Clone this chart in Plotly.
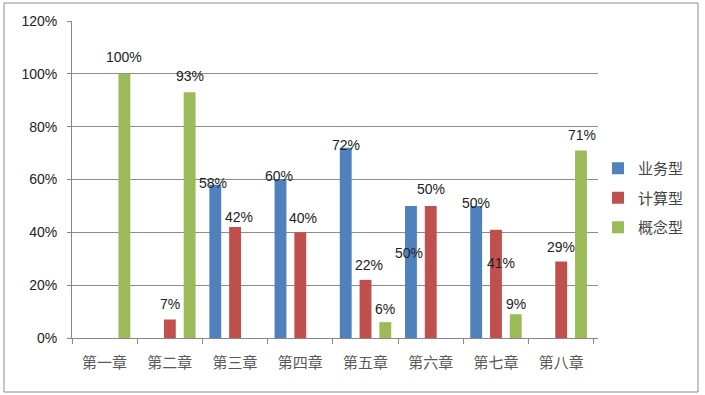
import plotly.graph_objects as go

categories = ["第一章", "第二章", "第三章", "第四章", "第五章", "第六章", "第七章", "第八章"]
yewu = [0, 0, 58, 60, 72, 50, 50, 0]      # 业务型
jisuan = [0, 7, 42, 40, 22, 50, 41, 29]   # 计算型
gainian = [100, 93, 0, 0, 6, 0, 9, 71]    # 概念型
series_names = ["业务型", "计算型", "概念型"]
y_ticks = [0, 20, 40, 60, 80, 100, 120]
y_tick_labels = ["0%", "20%", "40%", "60%", "80%", "100%", "120%"]

colors = ["#4F81BD", "#C0504D", "#9BBB59"]
series_values = [yewu, jisuan, gainian]

# label pixel offsets (dx, dy) from the bar top, per series per category (style only)
label_dy = [
    [0, 0, -2, -4, -3, 47, -3, 0],
    [0, -16, -10, -14, -15, -17, 33, -14],
    [-17, -16, 0, 0, -13, 0, -10, -15],
]
label_dx = [
    [0, 0, -2, -1, 0, -2, 0, 0],
    [0, 0, 4, 3, 3, 0, 5, 0],
    [0, 0, 0, 0, 0, 0, 0, 1],
]
slot_px = 19.8

fig = go.Figure()
for i, (name, vals) in enumerate(zip(series_names, series_values)):
    fig.add_trace(go.Bar(
        name=name, x=categories, y=vals, marker_color=colors[i],
        marker_line_width=0, legendgroup=name,
    ))

annotations = []
for i, vals in enumerate(series_values):
    for j, v in enumerate(vals):
        if v == 0:
            continue
        annotations.append(dict(
            x=categories[j], y=v, xref="x", yref="y",
            text=f"{v}%", showarrow=False,
            xshift=(i - 1) * slot_px + label_dx[i][j],
            yshift=-label_dy[i][j],
            xanchor="center", yanchor="middle",
            font=dict(family="Liberation Sans, Arial", size=14, color="#222222"),
        ))

L, R, T, B = 72, 107, 21, 57
W, H = 705, 395
pw, ph = W - L - R, H - T - B

def px_x(p):
    return (p - L) / pw

def px_y(p):
    return (H - B - p) / ph

fig.update_layout(
    width=W, height=H,
    margin=dict(l=L, r=R, t=T, b=B, autoexpand=False),
    paper_bgcolor="white", plot_bgcolor="white",
    barmode="group", bargap=0.09, bargroupgap=0.4,
    annotations=annotations,
    showlegend=True,
    legend=dict(
        x=px_x(598), y=px_y(152), xanchor="left", yanchor="top",
        font=dict(family="Noto Sans CJK SC", size=15, color="#444444"),
        traceorder="grouped", tracegroupgap=7, bgcolor="rgba(0,0,0,0)",
    ),
    shapes=[dict(
        type="rect", xref="paper", yref="paper",
        x0=px_x(4), x1=px_x(698), y0=px_y(392), y1=px_y(3),
        line=dict(color="#8c8c8c", width=1), layer="below",
    )],
    xaxis=dict(
        showline=True, linecolor="#868686", linewidth=1,
        ticks="outside", tickson="boundaries", ticklen=5, tickcolor="#868686",
        showgrid=False, ticklabelstandoff=11,
        tickfont=dict(family="Noto Sans CJK SC", size=15, color="#595959"),
    ),
    yaxis=dict(
        range=[0, 120], tickmode="array", tickvals=y_ticks, ticktext=y_tick_labels,
        showline=True, linecolor="#868686", linewidth=1,
        ticks="outside", ticklen=4, tickcolor="#868686",
        showgrid=True, gridcolor="#8c8c8c", gridwidth=1,
        zeroline=False, ticklabelstandoff=7,
        tickfont=dict(family="Liberation Sans, Arial", size=14, color="#222222"),
    ),
)

fig.write_html("out.html", post_script="document.body.style.margin='0';",
               config={"displayModeBar": False})
